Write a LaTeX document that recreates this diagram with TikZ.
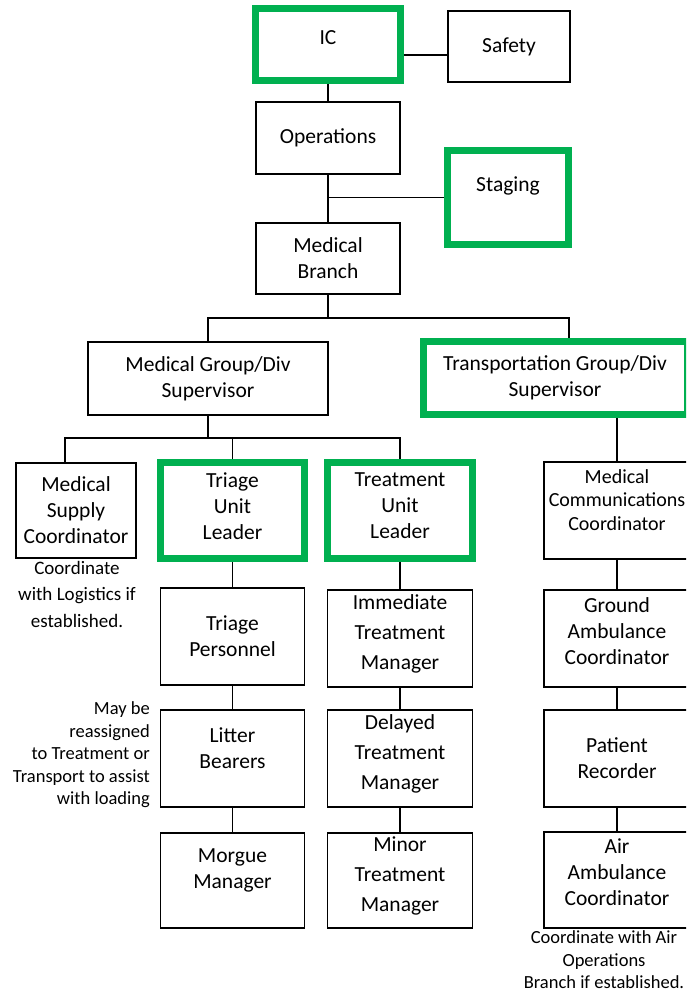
\documentclass[tikz,border=0pt]{standalone}
\usepackage{fontspec}
\setmainfont{Carlito}
\usetikzlibrary{backgrounds}
\definecolor{icsgreen}{HTML}{00B050}

\begin{document}
\begin{tikzpicture}[x=1pt,y=1pt,
    orgbox/.style={draw=black,line width=1.6pt,align=center,inner sep=0pt,
        font=\fontsize{21.5}{26}\selectfont},
    greenbox/.style={orgbox,draw=icsgreen,line width=6.5pt},
    remark/.style={inner sep=0pt,font=\fontsize{18.5}{22.5}\selectfont},
    wire/.style={line width=1.7pt}]

    \useasboundingbox (0,0) rectangle (686,-994);
    \clip (0,0) rectangle (686,-994);

    % command staff
    \node[greenbox,minimum width=145pt,minimum height=72pt,text depth=14pt] (ic) at (328,-44.5) {IC};
    \node[orgbox,minimum width=122pt,minimum height=71pt] (safety) at (509,-46.5) {Safety};
    \node[orgbox,minimum width=144pt,minimum height=72pt] (ops) at (328,-138) {Operations};
    \node[greenbox,minimum width=121pt,minimum height=94pt,text depth=26pt] (staging) at (508,-197.5) {Staging};
    \node[orgbox,minimum width=144pt,minimum height=71pt] (branch) at (328,-258.5) {Medical\\Branch};

    % groups
    \node[orgbox,minimum width=240.5pt,minimum height=73pt] (medgroup) at (208,-378.5) {Medical Group/Div\\Supervisor};
    \node[greenbox,minimum width=263.5pt,minimum height=73pt] (trans) at (555,-378) {Transportation Group/Div\\Supervisor};

    % medical side
    \node[orgbox,minimum width=120pt,minimum height=95pt] (supply) at (76,-510.5) {Medical\\Supply\\Coordinator};
    \node[greenbox,minimum width=144pt,minimum height=96pt,text depth=9pt] (triageul) at (232.5,-510.5) {Triage\\Unit\\Leader};
    \node[greenbox,minimum width=145pt,minimum height=96pt,text depth=9pt] (treatul) at (400,-510.5) {Treatment\\Unit\\Leader};

    \node[orgbox,minimum width=144pt,minimum height=97pt] (tpers) at (232.5,-636.5) {Triage\\Personnel};
    \node[orgbox,minimum width=144pt,minimum height=97pt,text depth=21pt] (litter) at (232.5,-758.5) {Litter\\Bearers};
    \node[orgbox,minimum width=144pt,minimum height=95pt,text depth=24pt] (morgue) at (232.5,-880.5) {Morgue\\Manager};

    \node[orgbox,minimum width=145pt,minimum height=97pt,text depth=12pt,
        font=\fontsize{21.5}{30}\selectfont] (immed) at (400,-638.5) {Immediate\\Treatment\\Manager};
    \node[orgbox,minimum width=145pt,minimum height=97pt,text depth=12pt,
        font=\fontsize{21.5}{30}\selectfont] (delayed) at (400,-758.5) {Delayed\\Treatment\\Manager};
    \node[orgbox,minimum width=145pt,minimum height=95pt,text depth=12pt,
        font=\fontsize{21.5}{30}\selectfont] (minor) at (400,-880.5) {Minor\\Treatment\\Manager};

    % transport side
    \node[orgbox,minimum width=146pt,minimum height=97pt,text depth=21pt,
        font=\fontsize{20}{23.5}\selectfont] (comm) at (617,-510.5) {Medical\\Communications\\Coordinator};
    \node[orgbox,minimum width=146pt,minimum height=97pt,text depth=15pt] (ground) at (617,-638.5) {Ground\\Ambulance\\Coordinator};
    \node[orgbox,minimum width=146pt,minimum height=97pt] (patient) at (617,-758.5) {Patient\\Recorder};
    \node[orgbox,minimum width=146pt,minimum height=96pt,text depth=16pt] (air) at (617,-880) {Air\\Ambulance\\Coordinator};

    % notes
    \node[remark,align=center,font=\fontsize{19}{26.5}\selectfont] (supplynote) at (77,-594) {Coordinate\\with Logistics if\\established.};
    \node[remark,align=right,anchor=east] (loadnote) at (150,-755) {May be\\reassigned\\to Treatment or\\Transport to assist\\with loading};
    \node[remark,align=center] (airnote) at (604,-960) {Coordinate with Air\\Operations\\Branch if established.};

    % reporting lines
    \coordinate (bus) at (328,-318);
    \coordinate (transtop) at (569,-341.5);
    \coordinate (bus2) at (208,-438);
    \coordinate (supplytop) at (65,-463);
    \begin{scope}[on background layer]
        \draw[wire] ([yshift=-10.5pt]ic.east) -- ([yshift=-10.5pt]ic.east -| safety.west);
        \draw[wire] (ic) -- (ops);
        \draw[wire] (ops) -- (branch);
        \draw[wire] (staging.west) -- (staging.west -| ops.south);
        \draw[wire] (branch) -- (bus);
        \draw[wire] (medgroup) |- (bus) -| (transtop);
        \draw[wire] (medgroup) -- (bus2);
        \draw[wire] (supplytop) |- (bus2 -| treatul) -- (treatul);
        \draw[wire] (triageul) -- (triageul |- bus2);
        \draw[wire] (comm) -- (comm |- trans.south);
        \draw[wire] (triageul) -- (tpers);
        \draw[wire] (tpers) -- (litter);
        \draw[wire] (litter) -- (morgue);
        \draw[wire] (treatul) -- (immed);
        \draw[wire] (immed) -- (delayed);
        \draw[wire] (delayed) -- (minor);
        \draw[wire] (comm) -- (ground);
        \draw[wire] (ground) -- (patient);
        \draw[wire] (patient) -- (air);
    \end{scope}
\end{tikzpicture}
\end{document}
